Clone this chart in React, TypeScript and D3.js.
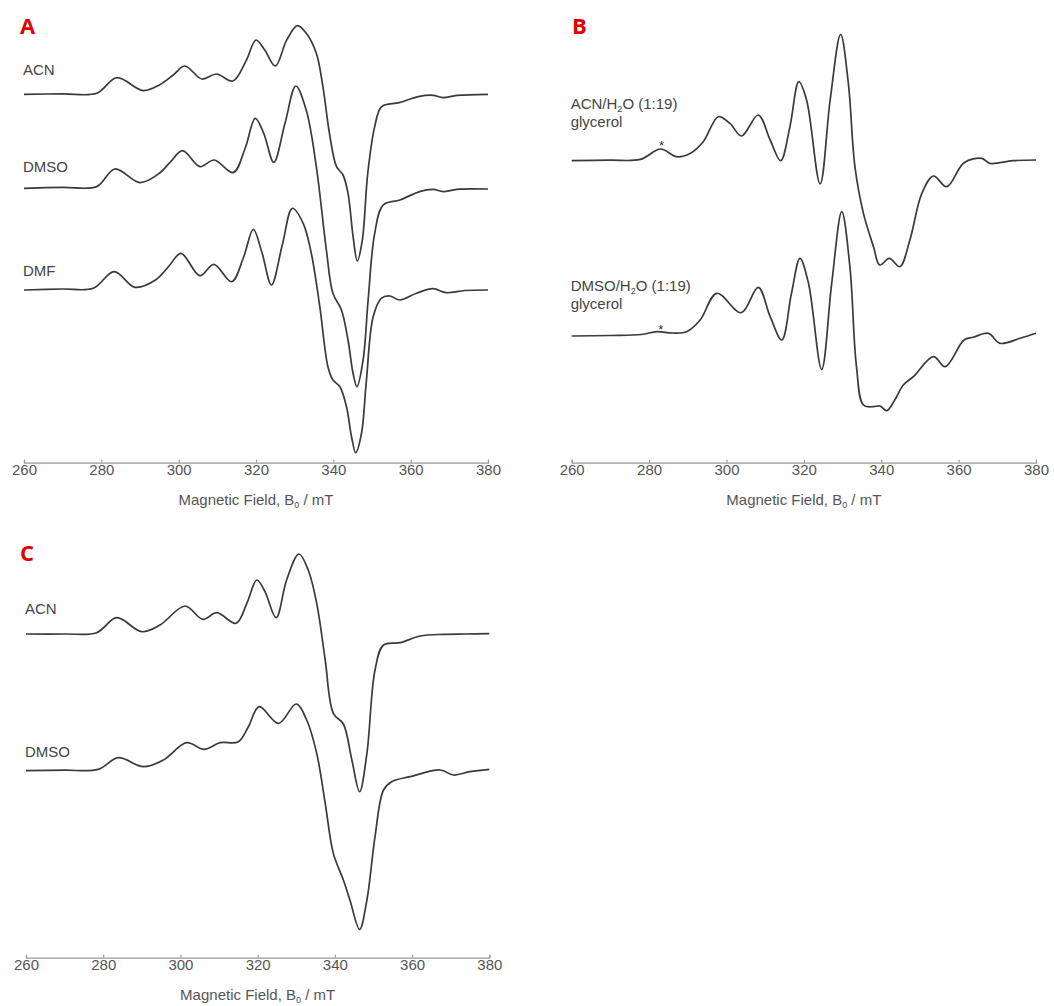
import React, { useEffect, useRef } from 'react';
import * as d3 from 'd3';

// ---------- DATA ----------
const FIELD_DOMAIN: [number, number] = [260, 380];
const FIELD_TICKS = [260, 280, 300, 320, 340, 360, 380];
const AXIS_TITLE = 'Magnetic Field, B';

// Panel A traces: [field mT, intensity a.u.]
const acnA: [number, number][] = [
  [260, 0], [270, 0.5], [278.8, 1], [284, 16.7], [290.8, 3.7], [295, 9.3], [298.6, 19.3], [301.6, 28.3],
  [306, 15.3], [309.8, 20.3], [314, 13.3], [317.5, 34], [320, 54.3], [322.3, 44], [325, 28.3], [327.9, 54],
  [330.7, 68.7], [333, 61], [335.6, 41], [337.3, 7.7], [339, -39], [340.8, -72], [342.5, -80.7], [343.8, -99],
  [345.1, -142], [346.2, -166.7], [347.5, -145.7], [348.9, -79], [350.7, -32.3], [352.5, -12.3], [357, -8.3],
  [362, -2.3], [365.8, -1], [368.4, -3.3], [372, -1], [380, 0],
];
const dmsoA: [number, number][] = [
  [260, 0], [270, 1], [278.8, 1.7], [283.5, 19.3], [290, 5.7], [295, 15], [298, 27], [301, 37.7], [305.5, 21.7],
  [309.2, 28.3], [314.1, 15.7], [317.2, 40], [319.8, 70], [322, 55], [324.6, 26], [327.5, 65], [330.3, 102.3],
  [333, 78], [335.6, 21.7], [338.2, -61.7], [339.9, -105], [342.1, -121.7], [343.8, -151.7], [345.1, -185],
  [346.1, -198.3], [347.7, -171.7], [349, -111.7], [350.7, -45], [352.9, -16.7], [357.2, -11.7], [362.3, -3.3],
  [365.8, -1], [368.4, -3.3], [372, -1], [380, -0.7],
];
const dmfA: [number, number][] = [
  [260, 0], [270, 1], [277.9, 1.7], [283.3, 18.3], [288.7, 2.7], [294, 10], [297.5, 24], [300.6, 36.7], [305.5, 14.3],
  [309.1, 25.7], [313.7, 8.3], [316.8, 33], [319.3, 60.7], [321.5, 38], [324, 5], [326.8, 45], [329.4, 81.7],
  [332.2, 66.7], [334.3, 36.7], [336.5, -16.7], [338.6, -76.7], [339.9, -90], [341.7, -96.7], [343.4, -116.7],
  [344.7, -146.7], [345.8, -162.7], [347.3, -143], [348.5, -93], [350.3, -26.7], [352.4, -8.3], [354.6, -6],
  [357.2, -10], [361.5, -3.3], [365.8, 1.3], [369.2, -2.7], [374, -0.5], [380, 0],
];

// Panel B traces
const acnWaterB: [number, number][] = [
  [260, 0], [270, 0.5], [277.7, 1.3], [283, 11.7], [287.1, 4], [290.6, 7.3], [294, 19], [297.9, 44], [300.9, 37.3],
  [303.9, 24.7], [308.2, 45.7], [311.3, 20.7], [314, 0], [316.4, 34], [318.7, 79], [320.7, 60.7], [324.2, -23.3],
  [326.8, 60.7], [329.5, 126.3], [331.5, 77.3], [333.2, -6], [335.4, -52.7], [338, -86], [339.6, -104.3],
  [342.1, -97.7], [344.8, -106], [347.4, -79.3], [350.5, -32.7], [353.5, -15.3], [356.9, -26], [361.4, -2],
  [366, 2.3], [368.1, -2.7], [374, 0], [380, 0.7],
];
const dmsoWaterB: [number, number][] = [
  [260, 0], [270, 0.5], [278, 1.5], [282, 4.3], [286, 3], [289.7, 4.3], [293.2, 16], [297.5, 42.7], [303.8, 23.3],
  [308.2, 48.7], [311.3, 19.3], [314.3, -4], [316.8, 42.7], [319, 77.7], [321.2, 52.7], [324.6, -33.3],
  [327.2, 52.7], [329.8, 124.3], [331.9, 69.3], [333.6, -30.7], [335.4, -69], [338, -70.7], [339.7, -70],
  [341.4, -74.7], [343.5, -64], [345.7, -49], [348.3, -40.7], [353.5, -20.7], [356.5, -30.7], [361.4, -4],
  [363.8, -1.3], [367.7, 2.7], [370.7, -7.3], [375.9, -2.3], [380, 2.7],
];

// Panel C traces
const acnC: [number, number][] = [
  [260, 0], [270, 0], [278.3, 1.3], [283.5, 16.3], [290, 2.3], [294.7, 9], [301.2, 28], [305.8, 14.7], [309.4, 21.3],
  [314.4, 10.7], [317.2, 30.7], [319.8, 54], [321.9, 42.3], [324.8, 16.3], [327.5, 54], [330.7, 80], [333.1, 64],
  [335.3, 30.7], [337.5, -26], [339.6, -79.3], [342.2, -90], [344.4, -126], [346.4, -157.7], [348.3, -119.3],
  [350.4, -36], [352.6, -11], [356.9, -8.7], [362.1, -2], [368.1, -0.3], [374, 0], [380, 0.3],
];
const dmsoC: [number, number][] = [
  [260, 0], [270, 0.5], [278.7, 1.3], [283.9, 13], [290.4, 4], [295.6, 10.7], [301.6, 28], [306.1, 21.3],
  [310.3, 28], [315, 29], [317.6, 44], [320.4, 64], [325.4, 47.3], [330, 66.7], [332.7, 50.7], [335.3, 17.3],
  [337.5, -32.7], [339.6, -82.7], [342.2, -109.3], [343.9, -129.3], [346.4, -158.7], [348.3, -129.3],
  [350.4, -66], [352.6, -19.3], [354.7, -11], [359.5, -6], [367.3, 0.7], [370.7, -4.3], [375, -1], [380, 1.3],
];

// ---------- LAYOUT ----------
type Trace = { data: [number, number][]; offset: number; label: string[]; labelDy: number; star?: [number, number] };
type Panel = { letter: string; x0: number; x1: number; axisY: number; letterX: number; letterY: number; traces: Trace[] };

const panels: Panel[] = [
  {
    letter: 'A', x0: 24, x1: 488, axisY: 462.7, letterX: 20, letterY: 34,
    traces: [
      { data: acnA, offset: 368.4, label: ['ACN'], labelDy: -19 },
      { data: dmsoA, offset: 274.4, label: ['DMSO'], labelDy: -16 },
      { data: dmfA, offset: 172.7, label: ['DMF'], labelDy: -14 },
    ],
  },
  {
    letter: 'B', x0: 571.7, x1: 1036, axisY: 462.7, letterX: 572, letterY: 34,
    traces: [
      { data: acnWaterB, offset: 302, label: ['ACN/H|2|O (1:19)', 'glycerol'], labelDy: -52, star: [283.2, 16] },
      { data: dmsoWaterB, offset: 126.7, label: ['DMSO/H|2|O (1:19)', 'glycerol'], labelDy: -45, star: [283.0, 7] },
    ],
  },
  {
    letter: 'C', x0: 26, x1: 489.3, axisY: 957.7, letterX: 20, letterY: 561,
    traces: [
      { data: acnC, offset: 323.7, label: ['ACN'], labelDy: -20 },
      { data: dmsoC, offset: 187, label: ['DMSO'], labelDy: -14 },
    ],
  },
];

const FONT = '"Liberation Sans", Arial, sans-serif';

function LabelText({ text, x, y }: { text: string; x: number; y: number }) {
  const parts = text.split('|');
  if (parts.length === 1) {
    return <text x={x} y={y} fontFamily={FONT} fontSize={15} fill="#444">{text}</text>;
  }
  return (
    <text x={x} y={y} fontFamily={FONT} fontSize={15} fill="#444">
      {parts[0]}
      <tspan fontSize={9} dy={3}>{parts[1]}</tspan>
      <tspan dy={-3}>{parts[2]}</tspan>
    </text>
  );
}

function PanelView({ p }: { p: Panel }) {
  const axisRef = useRef<SVGGElement>(null);
  const x = d3.scaleLinear().domain(FIELD_DOMAIN).range([p.x0, p.x1]);
  const y = d3.scaleLinear().domain([0, 500]).range([p.axisY, p.axisY - 500]);

  useEffect(() => {
    if (!axisRef.current) return;
    const g = d3.select(axisRef.current);
    g.selectAll('*').remove();
    g.call(d3.axisBottom(x).tickValues(FIELD_TICKS).tickSize(-3).tickSizeOuter(-3).tickPadding(2).tickFormat(d3.format('d')));
    g.select('.domain').attr('stroke', '#9a9a9a').attr('stroke-width', 1.2);
    g.selectAll('.tick line').attr('stroke', '#9a9a9a').attr('stroke-width', 1.2);
    g.selectAll('.tick text').attr('fill', '#555').attr('font-size', 15).attr('font-family', FONT);
  });

  const mid = (p.x0 + p.x1) / 2;
  return (
    <g>
      <text x={p.letterX} y={p.letterY} fontFamily='"Open Sans", sans-serif' fontWeight={700} fontSize={22} fill="#e00000">{p.letter}</text>
      {p.traces.map((t, i) => {
        const line = d3.line<[number, number]>()
          .x((d) => x(d[0]))
          .y((d) => y(d[1] + t.offset))
          .curve(d3.curveCatmullRom.alpha(0.5));
        const baseY = y(t.offset);
        return (
          <g key={i}>
            <path d={line(t.data) || ''} fill="none" stroke="#3a3a3a" strokeWidth={1.7} strokeLinejoin="round" />
            {t.label.map((s, j) => (
              <LabelText key={j} text={s} x={x(FIELD_DOMAIN[0]) - 1} y={baseY + t.labelDy + j * 18} />
            ))}
            {t.star && (
              <text x={x(t.star[0])} y={y(t.offset + t.star[1]) + 5} textAnchor="middle" fontFamily={FONT} fontSize={13} fill="#333">*</text>
            )}
          </g>
        );
      })}
      <g ref={axisRef} transform={`translate(0,${p.axisY})`} />
      <text x={mid} y={p.axisY + 42} textAnchor="middle" fontFamily={FONT} fontSize={15} fill="#555">
        {AXIS_TITLE}
        <tspan fontSize={9} dy={3}>0</tspan>
        <tspan dy={-3}> / mT</tspan>
      </text>
    </g>
  );
}

export default function App() {
  return (
    <svg width={1054} height={1006} style={{ position: 'absolute', left: 0, top: 0, background: '#fff' }}>
      <rect width={1054} height={1006} fill="#fff" />
      {panels.map((p) => <PanelView key={p.letter} p={p} />)}
    </svg>
  );
}
